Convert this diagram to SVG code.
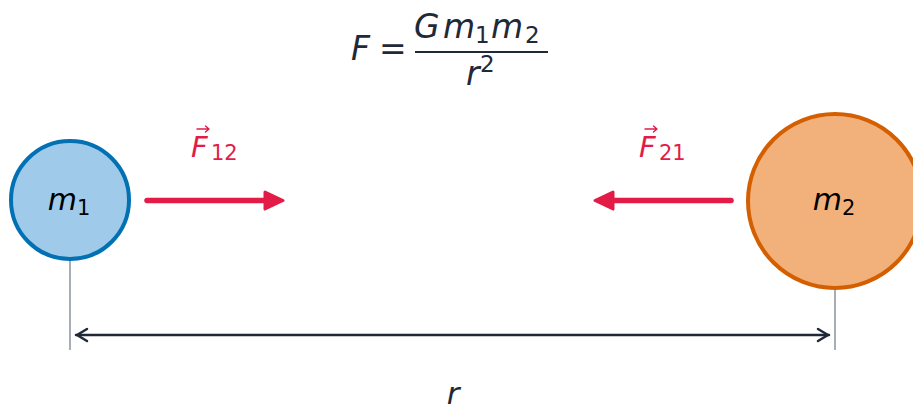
<svg xmlns="http://www.w3.org/2000/svg" width="913" height="405" viewBox="0 0 913 405">
<style>
.math{font-family:"DejaVu Sans",sans-serif;font-style:italic;fill:#1f2937}
.up{font-style:normal}
.lab{font-family:"DejaVu Sans",sans-serif;font-style:italic;fill:#000}
.force{font-family:"DejaVu Sans",sans-serif;font-style:italic;fill:#e31c47}
.guide{stroke:#a9aeb6;stroke-width:2;fill:none}
.fline{stroke:#e31c47;stroke-width:5.5;stroke-linecap:round;fill:none}
.fhead{fill:#e31c47;stroke:#e31c47;stroke-width:3;stroke-linejoin:round}
.vec{stroke:#e31c47;stroke-width:1.4;fill:none;stroke-linecap:round;stroke-linejoin:round}
.dim{stroke:#1f2937;stroke-width:2.5;fill:none;stroke-linecap:round;stroke-linejoin:round}
</style>
<rect width="913" height="405" fill="#fff"/>
<g id="formula">
<text class="math" x="351" y="60" font-size="33">F</text>
<text class="math up" x="379" y="60" font-size="33">=</text>
<text class="math" y="38" font-size="33"><tspan x="414">G</tspan><tspan x="443">m</tspan><tspan class="up" x="475" font-size="23" dy="5">1</tspan><tspan x="491" dy="-5">m</tspan><tspan class="up" x="525" font-size="23" dy="5">2</tspan></text>
<line x1="415" y1="52" x2="548" y2="52" stroke="#1f2937" stroke-width="2"/>
<text class="math" y="85" font-size="33"><tspan x="466">r</tspan><tspan class="up" x="480" font-size="23" dy="-13">2</tspan></text>
</g>
<g id="guides">
<line class="guide" x1="70" y1="260" x2="70" y2="350"/>
<line class="guide" x1="835" y1="289" x2="835" y2="350"/>
</g>
<g id="m1">
<circle cx="70" cy="200" r="59" fill="#9fcae9" stroke="#0271b3" stroke-width="4"/>
<text class="lab" x="69" y="210" font-size="30" text-anchor="middle">m<tspan class="up" font-size="21" dy="5">1</tspan></text>
</g>
<g id="m2">
<circle cx="835" cy="201" r="87" fill="#f2b17a" stroke="#d45f00" stroke-width="4"/>
<text class="lab" x="834" y="210" font-size="30" text-anchor="middle">m<tspan class="up" font-size="21" dy="5">2</tspan></text>
</g>
<g id="connectors">
<line class="fline" x1="147" y1="200.5" x2="268" y2="200.5"/>
<polygon class="fhead" points="265,192 283,200.5 265,209"/>
<line class="fline" x1="731" y1="200.5" x2="610" y2="200.5"/>
<polygon class="fhead" points="613,192 595,200.5 613,209"/>
<line class="dim" x1="76" y1="335" x2="829" y2="335"/>
<polyline class="dim" points="87,329 77,335 87,341"/>
<polyline class="dim" points="818,329 828,335 818,341"/>
</g>
<g id="labels">
<text class="force" x="191" y="157" font-size="29">F<tspan class="up" x="211" font-size="21" dy="3">12</tspan></text>
<path class="vec" d="M197 129 L209 129 M205.5 126 L209 129 L205.5 132"/>
<text class="force" x="639" y="157" font-size="29">F<tspan class="up" x="659" font-size="21" dy="3">21</tspan></text>
<path class="vec" d="M645 129 L657 129 M653.5 126 L657 129 L653.5 132"/>
<text class="math" x="453" y="404" font-size="31" text-anchor="middle">r</text>
</g>
</svg>
